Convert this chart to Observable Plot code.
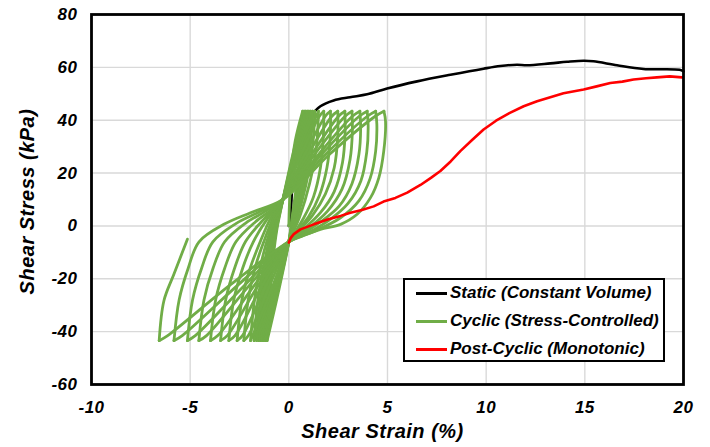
<!DOCTYPE html>
<html>
<head>
<meta charset="utf-8">
<script src="https://cdn.jsdelivr.net/npm/d3@7"></script>
<script src="https://cdn.jsdelivr.net/npm/@observablehq/plot@0.6"></script>
<style>
  body { margin: 0; background: #fff; }
  #chart { position: relative; width: 710px; height: 447px; }
  .legend {
    position: absolute; left: 403px; top: 278px; width: 258px; height: 80px;
    border: 2px solid #000; background: #fff;
    font: italic bold 17px "Liberation Sans", Arial, sans-serif; color: #000;
  }
  .legend .row { position: absolute; left: 11px; height: 22px; display: flex; align-items: center; white-space: nowrap; }
  .legend .swatch { width: 31px; height: 3px; margin-right: 3px; }
</style>
</head>
<body>
<div id="chart"></div>
<script>
// Axis ticks
const xTicks = [-10, -5, 0, 5, 10, 15, 20];
const yTicks = [-60, -40, -20, 0, 20, 40, 60, 80];

// Legend entries
const seriesNames = ["Static (Constant Volume)", "Cyclic (Stress-Controlled)", "Post-Cyclic (Monotonic)"];
const seriesColors = ["#000000", "#70ad47", "#ff0000"];

// Static constant-volume test: shear strain (%) and shear stress (kPa)
const staticStrain = [0, 0.08, 0.15, 0.25, 0.4, 0.6, 0.85, 1.1, 1.6, 2.27, 3.1, 3.97, 4.98, 6.5, 8.19, 9.87, 10.72, 11.56, 12.07, 13.25, 14.1, 14.94, 15.44, 16.63, 17.97, 19.8, 20];
const staticStress = [0, 3, 12, 22, 29, 34.5, 38.5, 41.5, 45.3, 47.5, 48.7, 49.8, 52, 54.7, 57.2, 59.5, 60.5, 61, 60.8, 61.5, 62.1, 62.5, 62.3, 60.8, 59.4, 59.1, 58.5];

// Post-cyclic monotonic test
const postStrain = [0, 0.1, 0.25, 0.59, 1.27, 2.0, 2.62, 3.12, 3.7, 4.3, 4.8, 5.4, 6.0, 6.67, 7.2, 7.68, 8.2, 8.69, 9.3, 9.87, 10.5, 11.2, 11.9, 12.58, 13.92, 14.94, 15.6, 16.29, 16.9, 17.47, 18.1, 18.65, 19.3, 19.92];
const postStress = [-6.3, -4.5, -3.1, -1.3, 0.6, 2.5, 3.8, 5, 6, 7.4, 9.2, 10.6, 12.6, 15.5, 18.2, 20.8, 24.4, 28.3, 32.6, 36.5, 39.8, 42.8, 45.3, 47.2, 50.2, 51.6, 52.8, 54.1, 54.6, 55.4, 55.9, 56.2, 56.6, 56.2];

// Stress-controlled cyclic test, one branch per loading reversal: [strain %, stress kPa]
const cyclicBranches = [
  [[0, 0], [0.03, 8], [0.12, 20], [0.32, 32], [0.7, 43.4]],
  [[0.7, 43.4], [0.6, 30], [0.4, 16], [0.18, 4], [0, -6], [-0.5, -24], [-1.1, -43.4]],
  [[-1.1, -43.4], [-0.98, -28], [-0.82, -14], [-0.62, -2], [-0.3, 10], [0.2, 27], [0.78, 43.4]],
  [[0.78, 43.4], [0.68, 30], [0.46, 16], [0.2, 4], [0, -6], [-0.54, -24], [-1.18, -43.4]],
  [[-1.18, -43.4], [-1.05, -28], [-0.87, -14], [-0.65, -2], [-0.3, 10], [0.24, 27], [0.86, 43.4]],
  [[0.86, 43.4], [0.75, 30], [0.52, 16], [0.24, 4], [0, -6], [-0.58, -24], [-1.26, -43.4]],
  [[-1.26, -43.4], [-1.12, -28], [-0.92, -14], [-0.68, -2], [-0.3, 10], [0.28, 27], [0.94, 43.4]],
  [[0.94, 43.4], [0.82, 30], [0.57, 16], [0.27, 4], [0, -6], [-0.62, -24], [-1.34, -43.4]],
  [[-1.34, -43.4], [-1.19, -28], [-0.97, -14], [-0.71, -2], [-0.3, 10], [0.32, 27], [1.02, 43.4]],
  [[1.02, 43.4], [0.9, 30], [0.63, 16], [0.3, 4], [0, -6], [-0.66, -24], [-1.42, -43.4]],
  [[-1.42, -43.4], [-1.26, -28], [-1.02, -14], [-0.74, -2], [-0.3, 10], [0.36, 27], [1.1, 43.4]],
  [[1.1, 43.4], [0.98, 30], [0.7, 16], [0.35, 4], [0, -6], [-0.7, -24], [-1.52, -43.4]],
  [[-1.52, -43.4], [-1.35, -28], [-1.08, -14], [-0.78, -2], [-0.3, 10], [0.4, 27], [1.2, 43.4]],
  [[1.2, 43.4], [1.08, 30], [0.78, 16], [0.4, 4], [0, -6], [-0.75, -24], [-1.63, -43.4]],
  [[-1.63, -43.4], [-1.45, -28], [-1.15, -14], [-0.82, -2], [-0.3, 10], [0.46, 27], [1.32, 43.4]],
  [[1.32, 43.4], [1.2, 30], [0.88, 16], [0.46, 4], [0, -6], [-0.8, -24], [-1.76, -43.4]],
  [[-1.76, -43.4], [-1.57, -28], [-1.24, -14], [-0.88, -2], [-0.3, 10], [0.54, 27], [1.5, 43.4]],
  [[1.5, 43.4], [1.4, 30], [1.05, 16], [0.55, 3.5], [0, -6], [-0.88, -24], [-1.94, -43.4]],
  [[-1.94, -43.4], [-1.74, -28], [-1.4, -14], [-1.0, -3], [-0.65, 4], [-0.3, 10], [0.65, 27.5], [1.55, 41.5], [1.77, 43.4]],
  [[1.77, 43.4], [1.75, 34], [1.6, 22], [1.25, 11], [0.75, 3], [0.3, -2.5], [0, -6], [-1.0, -23], [-2.05, -41.5], [-2.28, -43.4]],
  [[-2.28, -43.4], [-2.06, -28], [-1.68, -15], [-1.22, -5], [-0.8, 3], [-0.3, 10], [0.8, 27], [1.85, 41.5], [2.11, 43.4]],
  [[2.11, 43.4], [2.1, 34], [1.93, 22], [1.55, 11.5], [1.0, 3.5], [0.4, -2], [0, -6], [-1.15, -22.5], [-2.35, -41.5], [-2.62, -43.4]],
  [[-2.62, -43.4], [-2.38, -28], [-1.96, -16], [-1.45, -6], [-0.95, 2.5], [-0.3, 10], [0.97, 27], [2.18, 41.5], [2.48, 43.4]],
  [[2.48, 43.4], [2.48, 34], [2.3, 22], [1.85, 12], [1.2, 4], [0.5, -1.8], [0, -6], [-1.35, -22.5], [-2.73, -41.5], [-3.04, -43.4]],
  [[-3.04, -43.4], [-2.79, -28], [-2.34, -16], [-1.8, -6], [-1.15, 2], [-0.3, 10], [1.15, 27], [2.52, 41.5], [2.84, 43.4]],
  [[2.84, 43.4], [2.85, 35], [2.72, 24], [2.3, 13], [1.6, 5], [0.7, -1.5], [0, -6], [-1.55, -22.5], [-3.12, -41.5], [-3.46, -43.4]],
  [[-3.46, -43.4], [-3.2, -28], [-2.75, -16], [-2.2, -6], [-1.4, 1.5], [-0.3, 10], [1.3, 27], [2.85, 41.5], [3.2, 43.4]],
  [[3.2, 43.4], [3.22, 36], [3.1, 25], [2.7, 14], [1.95, 5.5], [1.0, -0.8], [0, -6], [-1.75, -22.5], [-3.6, -41.5], [-3.97, -43.4]],
  [[-3.97, -43.4], [-3.71, -28], [-3.25, -16], [-2.68, -6], [-1.7, 1.5], [-0.9, 6], [-0.3, 10], [1.5, 27], [3.22, 41.5], [3.6, 43.4]],
  [[3.6, 43.4], [3.64, 37], [3.55, 27], [3.2, 16], [2.55, 7.5], [1.6, 1.5], [0.7, -3], [0, -6], [-2.0, -22.5], [-4.17, -41.5], [-4.56, -43.4]],
  [[-4.56, -43.4], [-4.3, -28], [-3.84, -16], [-3.25, -6], [-2.2, 1], [-1.2, 5.5], [-0.3, 10], [1.65, 27], [3.57, 41.5], [3.97, 43.4]],
  [[3.97, 43.4], [4.02, 38], [3.95, 28], [3.65, 17], [3.0, 8.5], [2.1, 2.5], [1.0, -2.5], [0, -6], [-2.25, -22.5], [-4.74, -41.5], [-5.14, -43.4]],
  [[-5.14, -43.4], [-4.88, -28], [-4.42, -16], [-3.85, -6], [-2.7, 0.8], [-1.5, 5.3], [-0.3, 10], [1.85, 27], [3.98, 41.5], [4.4, 43.4]],
  [[4.4, 43.4], [4.46, 38.5], [4.4, 28.3], [4.12, 18], [3.55, 9.5], [2.6, 3], [1.3, -2], [0, -6], [-2.6, -22.5], [-5.4, -41.5], [-5.82, -43.4]],
  [[-5.82, -43.4], [-5.56, -28], [-5.1, -16], [-4.55, -6], [-3.29, 0.6], [-1.94, 5], [-0.3, 10], [2.05, 27], [4.38, 41.5], [4.82, 43.4]],
  [[4.82, 43.4], [4.9, 39.6], [4.81, 28.3], [4.56, 18.2], [4.14, 10.7], [3.46, 4.4], [2.62, 0.6], [1.6, -1.3], [0.7, -3.8], [0, -6], [-3.0, -22.5], [-6.14, -41.5], [-6.57, -43.4]],
  [[-6.57, -43.4], [-6.33, -28.3], [-5.82, -18.2], [-5.14, -5]]
];

const staticRows = staticStrain.map((x, i) => ({x, y: staticStress[i]}));
const postRows = postStrain.map((x, i) => ({x, y: postStress[i]}));
const cyclicRows = cyclicBranches.flatMap((branch, b) => branch.map(([x, y]) => ({x, y, b})));

const font = '"Liberation Sans", Arial, sans-serif';

const chart = Plot.plot({
  width: 710,
  height: 447,
  marginLeft: 91,
  marginRight: 27,
  marginTop: 14,
  marginBottom: 63,
  x: {domain: [-10, 20]},
  y: {domain: [-60, 80]},
  style: {fontFamily: font, fontSize: "17px", fontWeight: "bold", fontStyle: "italic", background: "#fff", color: "#000", letterSpacing: "0.5px"},
  marks: [
    Plot.gridX(xTicks, {stroke: "#d9d9d9", strokeOpacity: 1, strokeWidth: 1.4}),
    Plot.gridY(yTicks, {stroke: "#d9d9d9", strokeOpacity: 1, strokeWidth: 1.4}),
    Plot.line(staticRows, {x: "x", y: "y", stroke: seriesColors[0], strokeWidth: 2.6, curve: "catmull-rom"}),
    Plot.line(cyclicRows, {x: "x", y: "y", z: "b", stroke: seriesColors[1], strokeWidth: 2.8, curve: "catmull-rom"}),
    Plot.line(postRows, {x: "x", y: "y", stroke: seriesColors[2], strokeWidth: 2.6}),
    Plot.frame({stroke: "#000", strokeWidth: 2.8}),
    Plot.axisX(xTicks, {tickSize: 0, tickPadding: 16, label: null, tickFormat: d => String(d)}),
    Plot.axisY(yTicks, {tickSize: 0, tickPadding: 14, label: null, tickFormat: d => String(d)}),
    Plot.text(["Shear Strain (%)"], {frameAnchor: "bottom", textAnchor: "middle", lineAnchor: "middle", dy: 47, dx: -5, fontSize: 20, letterSpacing: 0}),
    Plot.text(["Shear Stress (kPa)"], {frameAnchor: "left", textAnchor: "middle", lineAnchor: "middle", rotate: -90, dx: -64, dy: 2, fontSize: 20})
  ]
});

const root = document.getElementById("chart");
root.appendChild(chart);

// Legend box drawn over the plot area
const legend = document.createElement("div");
legend.className = "legend";
seriesNames.forEach((name, i) => {
  const row = document.createElement("div");
  row.className = "row";
  row.style.top = (2 + i * 28) + "px";
  const sw = document.createElement("span");
  sw.className = "swatch";
  sw.style.background = seriesColors[i];
  const label = document.createElement("span");
  label.textContent = name;
  row.appendChild(sw);
  row.appendChild(label);
  legend.appendChild(row);
});
root.appendChild(legend);
</script>
</body>
</html>
